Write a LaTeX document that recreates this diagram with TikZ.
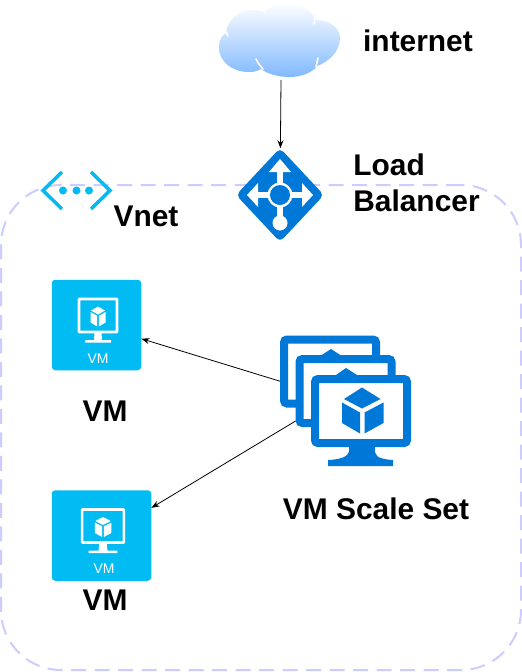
\documentclass[tikz,border=0pt]{standalone}
\usepackage{fontspec}
\setmainfont{Liberation Sans}
\usetikzlibrary{arrows.meta,shapes.geometric,calc}
\definecolor{msblue}{HTML}{0078D7}
\definecolor{azure}{HTML}{00BCF2}
\definecolor{vnetline}{HTML}{CCCCFF}
\definecolor{cloudtop}{HTML}{FFFFFF}
\definecolor{cloudbottom}{HTML}{80B9FF}

\begin{document}
\begin{tikzpicture}[
    x=1pt, y=-1pt,
    lbl/.style={font=\fontsize{29.9}{36}\selectfont\bfseries, align=left, inner sep=0pt, text=black},
    arr/.style={-{Stealth[length=8pt,width=6pt]}, line width=0.8pt, black},
    vmbox/.style={fill=azure, rounded corners=3.5pt, minimum height=90.5pt, inner sep=0pt},
    screen/.style={draw=msblue, fill=white, line width=8pt, rounded corners=3pt, minimum width=92pt, minimum height=64pt, inner sep=0pt},
    vmtext/.style={font=\fontsize{14}{14}\selectfont, text=white, inner sep=0pt},
    slit/.style={white, line width=1.6pt, line cap=round},
    pics/vmglyph/.style={code={
        \draw[white, line width=2.6pt, rounded corners=0.5pt] (-19,-26) rectangle (19,7);
        \fill[white] (-3.5,8) -- (3.5,8) -- (4,15) -- (13,15) -- (13,17.5) -- (-13,17.5) -- (-13,15) -- (-4,15) -- cycle;
        \fill[white] (0,-18.5) -- (7,-14.5) -- (0,-10.5) -- (-7,-14.5) -- cycle;
        \fill[white] (-7.5,-13) -- (-0.8,-9.2) -- (-0.8,1.5) -- (-7.5,-2.5) -- cycle;
        \fill[white] (7.5,-13) -- (0.8,-9.2) -- (0.8,1.5) -- (7.5,-2.5) -- cycle;
    }}
]
\useasboundingbox (0,0) rectangle (522,672);
\fill[white] (0,0) rectangle (522,672);

% vnet frame
\node[draw=vnetline, line width=2pt, dash pattern=on 15pt off 8.5pt, rounded corners=60pt, minimum width=520pt, minimum height=485pt, inner sep=0pt] (vnet) at (261,427.5) {};

% cloud
\shade[top color=cloudtop, bottom color=cloudbottom]
    (226,33) .. controls (228,18) and (240,10) .. (252,10)
    .. controls (257,10) and (262,11) .. (265,12)
    .. controls (270,6) and (278,3) .. (287,3)
    .. controls (303,3) and (313,12) .. (315,20)
    .. controls (330,20) and (340,28) .. (340,38)
    .. controls (340,52) and (328,62) .. (317,66)
    .. controls (313,72) and (302,77) .. (290,77)
    .. controls (278,77) and (268,74) .. (261,69)
    .. controls (256,72) and (252,72) .. (249,72)
    .. controls (232,72) and (219,62) .. (219,47)
    .. controls (219,40) and (222,35) .. (226,33) -- cycle;
\draw[slit] (256,59) .. controls (258,63) and (260,66) .. (263,69);
\draw[slit] (226,32) -- (228,36);
\draw[slit] (263,11) -- (267,13);
\draw[slit] (315,18) -- (314,24);
\draw[slit] (318,58) -- (316,67);
\coordinate (cloud) at (281,80);
\node[lbl] (internetlbl) at (418,41) {internet};

% load balancer
\node[diamond, fill=msblue, rounded corners=5pt, minimum width=88pt, minimum height=94pt, inner sep=0pt] (lb) at (280,195) {};
\draw[white, line width=6pt] (280,168) -- (280,218);
\draw[white, line width=6pt] (255,195) -- (305,195);
\fill[white] (280,159) -- (291,172) -- (269,172) -- cycle;
\fill[white] (247,195) -- (258,183) -- (258,207) -- cycle;
\fill[white] (313,195) -- (302,183) -- (302,207) -- cycle;
\fill[white] (280,195) circle (12.5pt);
\fill[msblue] (280,195) circle (10pt);
\fill[white] (280,223) circle (7.5pt);
\node[lbl] (lblb) at (416.5,183) {Load\\Balancer};

% vnet icon
\draw[azure, line width=3.5pt] (62,172) -- (43,190.5) -- (62,209);
\draw[azure, line width=3.5pt] (91,172) -- (110,190.5) -- (91,209);
\foreach \dotx in {63,76.5,89}
    \fill[azure] (\dotx,190.5) circle (4pt);
\node[lbl] (vnetlbl) at (146,216) {Vnet};

% single vms
\node[vmbox, minimum width=89.5pt] (vmOne) at (96.5,325) {};
\pic at (98,325) {vmglyph};
\node[vmtext] (vmOnetxt) at (98,359) {VM};
\node[lbl] (vmOnelbl) at (105,411) {VM};

\node[vmbox, minimum width=99.5pt] (vmTwo) at (101.5,535.5) {};
\pic[xscale=1.1] at (103,535.5) {vmglyph};
\node[vmtext] (vmTwotxt) at (104,569) {VM};
\node[lbl] (vmTwolbl) at (105,600) {VM};

% scale set
\node[screen] (vmsBack) at (330,371.5) {};
\fill[msblue] (321,355.5) -- (331,349) -- (341,355.5) -- cycle;
\node[screen] (vmsMid) at (345.5,391) {};
\fill[msblue] (336,375) -- (346,368) -- (357,375) -- cycle;
\node[screen] (vmsFront) at (361,411) {};
\fill[msblue] (349,447) -- (375,447) .. controls (374,455) and (376,459) .. (393,460) -- (393,466) -- (328,466) -- (328,460) .. controls (346,459) and (350,455) .. (349,447) -- cycle;
\fill[msblue] (362,387.5) -- (380.5,399) -- (362,408.5) -- (344,399) -- cycle;
\fill[msblue] (342,402.5) -- (360,412.5) -- (360,433.5) -- (342,423) -- cycle;
\fill[msblue] (364.5,412.5) -- (383.5,402.5) -- (383.5,423) -- (364.5,433.5) -- cycle;
\node[lbl] (vmsslbl) at (376,509) {VM Scale Set};

% connectors
\draw[arr] (cloud) -- (lb);
\draw[arr] (vmsBack.191) -- (vmOne.-17);
\draw[arr] (vmsMid.211) -- (vmTwo.29);
\end{tikzpicture}
\end{document}
